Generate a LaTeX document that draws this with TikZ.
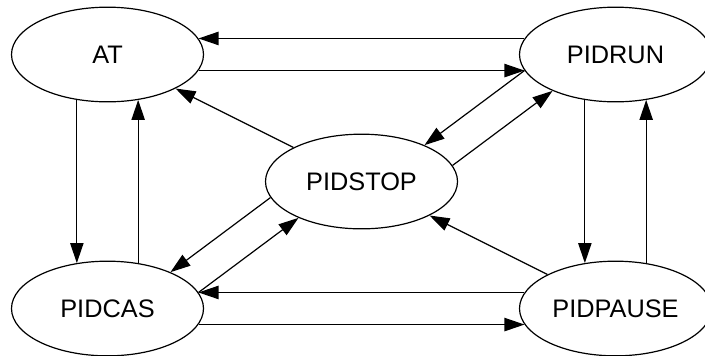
\documentclass[tikz,border=0pt]{standalone}
\usepackage{fontspec}
\setmainfont{Liberation Sans}
\usetikzlibrary{shapes.geometric, arrows.meta, positioning}

\begin{document}
\begin{tikzpicture}[
  x=0.75pt, y=-0.75pt,
  state/.style={ellipse, draw, line width=0.9pt, minimum width=144pt, minimum height=71pt, inner sep=0pt, font=\fontsize{19}{23}\selectfont},
  arrow/.style={-{Triangle[length=15pt, width=10pt]}, line width=0.9pt},
  node distance=190.5pt and 381pt, on grid
]
  \useasboundingbox (0,0) rectangle (705,355);
  \node[state] (AT) at (107.5,54.5) {AT};
  \node[state, right=of AT] (PIDRUN) {PIDRUN};
  \node[state, below=of AT] (PIDCAS) {PIDCAS};
  \node[state, below=of PIDRUN] (PIDPAUSE) {PIDPAUSE};
  \node[state, below right=95.25pt and 190.5pt of AT] (PIDSTOP) {PIDSTOP};

  \draw[arrow] (PIDRUN.170) -- (AT.10);
  \draw[arrow] (AT.-10) -- (PIDRUN.190);
  \draw[arrow] (AT.236) -- (PIDCAS.124);
  \draw[arrow] (PIDCAS.56) -- (AT.304);
  \draw[arrow] (PIDRUN.236) -- (PIDPAUSE.124);
  \draw[arrow] (PIDPAUSE.56) -- (PIDRUN.304);
  \draw[arrow] (PIDPAUSE.170) -- (PIDCAS.10);
  \draw[arrow] (PIDCAS.-10) -- (PIDPAUSE.190);
  \draw[arrow] (PIDSTOP) -- (AT);
  \draw[arrow] (PIDPAUSE) -- (PIDSTOP);
  \draw[arrow] (PIDRUN.190) -- (PIDSTOP.30);
  \draw[arrow] (PIDSTOP.10) -- (PIDRUN.210);
  \draw[arrow] (PIDSTOP.190) -- (PIDCAS.30);
  \draw[arrow] (PIDCAS.10) -- (PIDSTOP.210);
\end{tikzpicture}
\end{document}
